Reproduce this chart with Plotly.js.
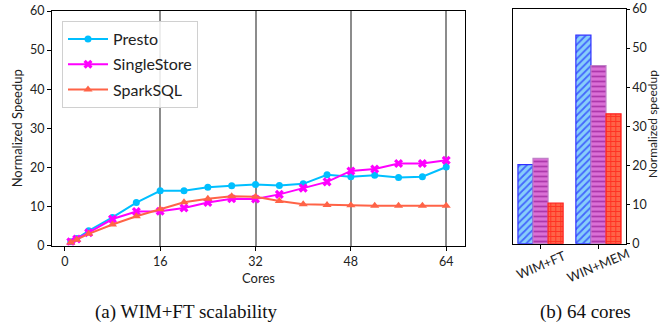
<!DOCTYPE html>
<html>
<head>
<meta charset="utf-8">
<script src="https://cdn.plot.ly/plotly-3.0.1.min.js"></script>
<style>
  html, body { margin: 0; padding: 0; background: #fff; }
  #chart { width: 669px; height: 333px; }
</style>
</head>
<body>
<div id="chart"></div>
<script>
// (a) speedup vs. number of cores
const cores = [1, 2, 4, 8, 12, 16, 20, 24, 28, 32, 36, 40, 44, 48, 52, 56, 60, 64];
const presto = [1.0, 1.8, 3.8, 7.2, 11.0, 14.0, 14.0, 14.9, 15.3, 15.6, 15.4, 15.8, 18.1, 17.6, 18.0, 17.4, 17.6, 20.1];
const singlestore = [1.0, 1.7, 3.3, 6.8, 8.7, 8.8, 9.6, 11.0, 12.0, 11.9, 13.1, 14.7, 16.3, 19.1, 19.6, 21.0, 21.0, 21.8];
const sparksql = [0.8, 1.5, 3.0, 5.4, 7.5, 9.3, 11.1, 12.0, 12.6, 12.5, 11.4, 10.6, 10.4, 10.3, 10.2, 10.2, 10.2, 10.2];
const coreTicks = [0, 16, 32, 48, 64];
const gridCores = [16, 32, 48, 64];
const speedTicks = [0, 10, 20, 30, 40, 50, 60];

// (b) speedup at 64 cores per workload
const workloads = ['WIM+FT', 'WIN+MEM'];
const barPresto = [20.2, 53.3];
const barSingle = [21.8, 45.5];
const barSpark = [10.4, 33.2];

const W = 669, H = 333;
const FONT = 'Lato, "DejaVu Sans", sans-serif';
const SERIF = '"Liberation Serif", "Times New Roman", serif';
const fx = (a, b) => [a / W, b / W];
const fy = (top, bottom) => [1 - bottom / H, 1 - top / H];

function line(name, y, color, symbol, size) {
  return {
    type: 'scatter', mode: 'lines+markers', name: name, legendgroup: name,
    x: cores, y: y, xaxis: 'x', yaxis: 'y',
    line: { color: color, width: 2 },
    marker: { color: color, symbol: symbol, size: size }
  };
}

function bars(name, y, fill, hatch, shape, edge) {
  return {
    type: 'bar', name: name, x: workloads, y: y,
    xaxis: 'x2', yaxis: 'y2', showlegend: false,
    marker: {
      color: fill,
      line: { color: edge, width: 1.2 },
      pattern: { shape: shape, fgcolor: hatch, size: 5, solidity: 0.35, fillmode: 'overlay' }
    }
  };
}

const data = [
  line('Presto', presto, '#00BFFF', 'circle', 7),
  line('SingleStore', singlestore, '#FF00FF', 'x', 8),
  line('SparkSQL', sparksql, '#FF6347', 'triangle-up', 8),
  // invisible trace carrying the vertical grid axis
  { type: 'scatter', x: [coreTicks[0]], y: [0], xaxis: 'x3', yaxis: 'y', mode: 'markers',
    marker: { opacity: 0 }, showlegend: false, hoverinfo: 'skip' },
  bars('Presto', barPresto, '#87CEFA', '#0000FF', '/', '#3030FF'),
  bars('SingleStore', barSingle, '#DA70D6', '#800080', '-', '#C080C8'),
  bars('SparkSQL', barSpark, '#FF6347', '#FF0000', '+', '#FF2020')
];

const tickFont = { family: FONT, size: 12.5, color: '#222' };
const xRange = [-2.15, 67.15];

// rotated workload labels, centred under each group
const workloadLabels = workloads.map(w => ({
  text: w, xref: 'x2', yref: 'paper', x: w, y: 1 - 265 / H,
  xanchor: 'center', yanchor: 'middle', textangle: -23, showarrow: false,
  font: { family: FONT, size: 13, color: '#222' }
}));

const layout = {
  width: W, height: H,
  margin: { l: 0, r: 0, t: 0, b: 0 },
  paper_bgcolor: '#fff', plot_bgcolor: 'rgba(0,0,0,0)',
  font: { family: FONT, color: '#222' },
  barmode: 'group', bargap: 0.22, bargroupgap: 0,
  showlegend: true,
  legend: {
    x: 62 / W, y: 1 - 21 / H, xanchor: 'left', yanchor: 'top',
    bgcolor: 'rgba(255,255,255,0.85)', bordercolor: '#d0d0d0', borderwidth: 1,
    font: { family: FONT, size: 16, color: '#222' },
    tracegroupgap: 1.5, itemwidth: 40
  },
  xaxis: {
    domain: fx(52, 465), range: xRange, anchor: 'y',
    tickvals: coreTicks, ticks: 'outside', ticklen: 4, tickcolor: '#000',
    showgrid: false, zeroline: false, showline: true, linecolor: '#000', linewidth: 1, mirror: true,
    tickfont: tickFont,
    title: { text: 'Cores', font: { family: FONT, size: 13, color: '#222' }, standoff: 6 }
  },
  xaxis3: {
    domain: fx(52, 465), range: xRange, anchor: 'y', overlaying: 'x',
    tickvals: gridCores, showticklabels: false, ticks: '',
    showgrid: true, gridcolor: '#8c8c8c', gridwidth: 2, zeroline: false, showline: false
  },
  yaxis: {
    domain: fy(11, 245.6), range: [0, 60], anchor: 'x',
    tickvals: speedTicks, ticks: 'outside', ticklen: 4, tickcolor: '#000',
    showgrid: false, zeroline: false, showline: true, linecolor: '#000', linewidth: 1, mirror: true,
    tickfont: tickFont,
    title: { text: 'Normalized Speedup', font: { family: FONT, size: 13, color: '#222' }, standoff: 4 }
  },
  xaxis2: {
    domain: fx(513.3, 625.7), range: [-0.47, 1.47], anchor: 'y2',
    ticks: 'outside', ticklen: 4, tickcolor: '#000', showticklabels: false,
    showgrid: false, zeroline: false, showline: true, linecolor: '#000', linewidth: 1, mirror: true
  },
  yaxis2: {
    domain: fy(9, 243.7), range: [0, 60], anchor: 'x2', side: 'right',
    tickvals: speedTicks, ticks: 'outside', ticklen: 3, tickcolor: '#000',
    showgrid: false, zeroline: false, showline: true, linecolor: '#000', linewidth: 1, mirror: true,
    tickfont: tickFont
  },
  annotations: workloadLabels.concat([
    { text: 'Normalized speedup', xref: 'paper', yref: 'paper', x: 652 / W, y: 1 - 124 / H,
      xanchor: 'center', yanchor: 'middle', textangle: -90, showarrow: false,
      font: { family: FONT, size: 12, color: '#222' } },
    { text: '(a) WIM+FT scalability', xref: 'paper', yref: 'paper', x: 186 / W, y: 1 - 312 / H,
      xanchor: 'center', yanchor: 'middle', showarrow: false,
      font: { family: SERIF, size: 19, color: '#111' } },
    { text: '(b) 64 cores', xref: 'paper', yref: 'paper', x: 585 / W, y: 1 - 312 / H,
      xanchor: 'center', yanchor: 'middle', showarrow: false,
      font: { family: SERIF, size: 19, color: '#111' } }
  ])
};

Plotly.newPlot('chart', data, layout, { staticPlot: true, displayModeBar: false });
</script>
</body>
</html>
